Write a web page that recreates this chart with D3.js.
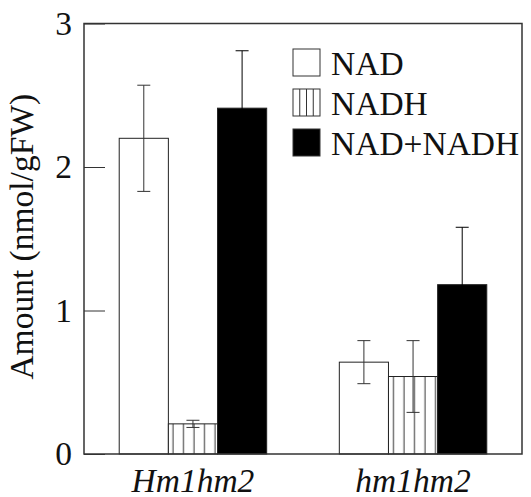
<!DOCTYPE html>
<html lang="en">
<head>
<meta charset="utf-8">
<title>NAD amounts</title>
<script src="https://d3js.org/d3.v7.min.js"></script>
<style>
  body { margin: 0; background: #fff; }
</style>
</head>
<body>
<script>
// data
const genotypes = ["Hm1hm2", "hm1hm2"];
const series = ["NAD", "NADH", "NAD+NADH"];
const nadValues = [2.20, 0.64];
const nadErrors = [0.37, 0.15];
const nadhValues = [0.21, 0.54];
const nadhErrors = [0.025, 0.25];
const totalValues = [2.41, 1.18];
const totalErrors = [0.40, 0.40];
const yTicks = [0, 1, 2, 3];

const width = 531, height = 497;
const margin = { top: 23.5, right: 9, bottom: 43, left: 84 };
const fontSize = 33.5;

const svg = d3.select("body").append("svg")
    .attr("width", width)
    .attr("height", height)
    .attr("font-family", "'Liberation Serif', 'DejaVu Serif', serif")
    .attr("fill", "#111");

// hatch pattern for NADH
const defs = svg.append("defs");
const pat = defs.append("pattern")
    .attr("id", "vhatch")
    .attr("patternUnits", "userSpaceOnUse")
    .attr("width", 10.5)
    .attr("height", 10);
pat.append("rect").attr("width", 10.5).attr("height", 10).attr("fill", "#fff");
pat.append("line")
    .attr("x1", 5).attr("x2", 5).attr("y1", 0).attr("y2", 10)
    .attr("stroke", "#333").attr("stroke-width", 1);

const fills = { "NAD": "#fff", "NADH": "url(#vhatch)", "NAD+NADH": "#000" };

const x0 = d3.scaleBand()
    .domain(genotypes)
    .range([margin.left, width - margin.right])
    .paddingInner(0.33)
    .paddingOuter(0.16);

const x1 = d3.scaleBand()
    .domain(series)
    .range([0, x0.bandwidth()]);

const y = d3.scaleLinear()
    .domain([0, 3])
    .range([height - margin.bottom, margin.top]);

// build rows
const rows = [];
genotypes.forEach((g, i) => {
    rows.push({ g: g, s: "NAD", v: nadValues[i], e: nadErrors[i] });
    rows.push({ g: g, s: "NADH", v: nadhValues[i], e: nadhErrors[i] });
    rows.push({ g: g, s: "NAD+NADH", v: totalValues[i], e: totalErrors[i] });
});

// bars
svg.selectAll("rect.bar")
    .data(rows)
    .enter()
    .append("rect")
    .attr("class", "bar")
    .attr("x", d => x0(d.g) + x1(d.s))
    .attr("y", d => y(d.v))
    .attr("width", x1.bandwidth())
    .attr("height", d => y(0) - y(d.v))
    .attr("fill", d => fills[d.s])
    .attr("stroke", "#222")
    .attr("stroke-width", 1);

// error bars
const cap = 6.5;
const eb = svg.selectAll("g.err")
    .data(rows)
    .enter()
    .append("g")
    .attr("class", "err")
    .attr("stroke", d => d.s === "NAD+NADH" ? "#000" : "#333")
    .attr("stroke-width", 1)
    .attr("transform", d => "translate(" + (x0(d.g) + x1(d.s) + x1.bandwidth() / 2) + ",0)");
eb.append("line")
    .attr("y1", d => y(d.v + d.e))
    .attr("y2", d => y(d.v - d.e));
eb.append("line")
    .attr("x1", -cap).attr("x2", cap)
    .attr("y1", d => y(d.v + d.e)).attr("y2", d => y(d.v + d.e));
eb.append("line")
    .attr("x1", -cap).attr("x2", cap)
    .attr("y1", d => y(d.v - d.e)).attr("y2", d => y(d.v - d.e));

// y axis: inward ticks
const yAxis = svg.append("g")
    .attr("transform", "translate(" + margin.left + ",0)")
    .call(d3.axisRight(y).tickValues(yTicks).tickSize(21).tickFormat(""));
yAxis.select(".domain").remove();
yAxis.selectAll("line").attr("stroke", "#333").attr("stroke-width", 1);

svg.selectAll("text.ytick")
    .data(yTicks)
    .enter()
    .append("text")
    .attr("class", "ytick")
    .attr("x", margin.left - 12)
    .attr("y", d => y(d))
    .attr("dy", "0.34em")
    .attr("text-anchor", "end")
    .attr("font-size", fontSize)
    .text(d => d);

// frame
svg.append("rect")
    .attr("x", margin.left)
    .attr("y", margin.top)
    .attr("width", width - margin.left - margin.right)
    .attr("height", height - margin.top - margin.bottom)
    .attr("fill", "none")
    .attr("stroke", "#333")
    .attr("stroke-width", 1.5);

// x labels
svg.selectAll("text.xlab")
    .data(genotypes)
    .enter()
    .append("text")
    .attr("class", "xlab")
    .attr("x", d => x0(d) + x0.bandwidth() / 2)
    .attr("y", height - 5)
    .attr("text-anchor", "middle")
    .attr("font-style", "italic")
    .attr("font-size", fontSize)
    .text(d => d);

// y label
svg.append("text")
    .attr("transform", "translate(33," + (y(1.5) - 2) + ") rotate(-90)")
    .attr("text-anchor", "middle")
    .attr("font-size", fontSize)
    .text("Amount (nmol/gFW)");

// legend
const legX = 293, legY = 49, legStep = 40, box = 27;
const leg = svg.selectAll("g.leg")
    .data(series)
    .enter()
    .append("g")
    .attr("class", "leg")
    .attr("transform", (d, i) => "translate(" + legX + "," + (legY + i * legStep) + ")");
leg.append("rect")
    .attr("width", box)
    .attr("height", box)
    .attr("fill", d => d === "NAD+NADH" ? "#000" : "#fff")
    .attr("stroke", "#333")
    .attr("stroke-width", 1);
leg.filter(d => d === "NADH")
    .selectAll("line")
    .data([1, 2, 3])
    .enter()
    .append("line")
    .attr("x1", k => k * box / 4).attr("x2", k => k * box / 4)
    .attr("y1", 0).attr("y2", box)
    .attr("stroke", "#333").attr("stroke-width", 1);
leg.append("text")
    .attr("x", box + 11)
    .attr("y", box / 2)
    .attr("dy", "0.36em")
    .attr("font-size", fontSize)
    .text(d => d);
</script>
</body>
</html>
